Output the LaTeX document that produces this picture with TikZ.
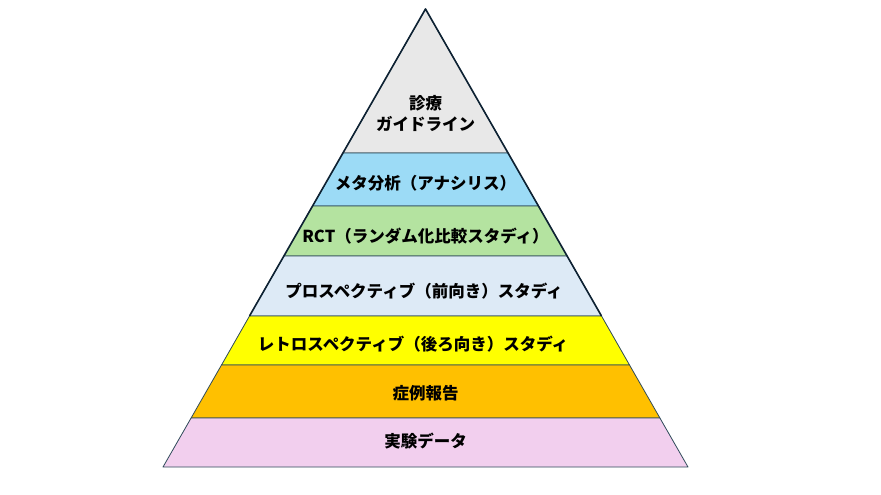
\documentclass[tikz,border=0pt]{standalone}
\usepackage{fontspec}
\usepackage{xcolor}
\usepackage{tikz}
\newfontfamily\jpfont{Noto Sans CJK JP}
\definecolor{edgeline}{HTML}{2F4B5A}
\definecolor{apexline}{HTML}{0E2233}
\definecolor{guidecol}{HTML}{E8E8E8}
\definecolor{metacol}{HTML}{9CDBF6}
\definecolor{rctcol}{HTML}{B4E3A0}
\definecolor{prospcol}{HTML}{DDEAF6}
\definecolor{retrocol}{HTML}{FFFF00}
\definecolor{casecol}{HTML}{FFC000}
\definecolor{labcol}{HTML}{F2CFEE}

\begin{document}
\begin{tikzpicture}[x=1pt,y=-1pt]
\useasboundingbox (0,0) rectangle (881,495);
\tikzstyle{layer}=[draw=edgeline,line width=0.8pt,line join=round]
\tikzstyle{every node}=[font=\jpfont\bfseries\fontsize{16.5}{21}\selectfont,align=center,inner sep=0pt]

% layers, top to bottom
\draw[layer,fill=guidecol] (425.5,9) -- (508.0,153) -- (343.0,153) -- cycle;
\draw[layer,fill=metacol] (343.0,153) -- (508.0,153) -- (538.4,206) -- (312.6,206) -- cycle;
\draw[layer,fill=rctcol] (312.6,206) -- (538.4,206) -- (567.1,256) -- (283.9,256) -- cycle;
\draw[layer,fill=prospcol] (283.9,256) -- (567.1,256) -- (601.5,316) -- (249.5,316) -- cycle;
\draw[layer,fill=retrocol] (249.5,316) -- (601.5,316) -- (629.5,365) -- (221.5,365) -- cycle;
\draw[layer,fill=casecol] (221.5,365) -- (629.5,365) -- (659.9,418) -- (191.1,418) -- cycle;
\draw[layer,fill=labcol] (191.1,418) -- (659.9,418) -- (688,467) -- (163,467) -- cycle;
\draw[apexline,line width=1.6pt,line join=round] (249.5,316) -- (425.5,9) -- (601.5,316);

\node (guide) at (425.5,114) {診療\\ガイドライン};
\node (meta) at (425.5,183) {メタ分析（アナシリス）};
\node (rct) at (425.5,236) {RCT（ランダム化比較スタディ）};
\node (prosp) at (424,291) {プロスペクティブ（前向き）スタディ};
\node (retro) at (413,344) {レトロスペクティブ（後ろ向き）スタディ};
\node (case) at (425.5,393) {症例報告};
\node (lab) at (425.5,441) {実験データ};
\end{tikzpicture}
\end{document}
